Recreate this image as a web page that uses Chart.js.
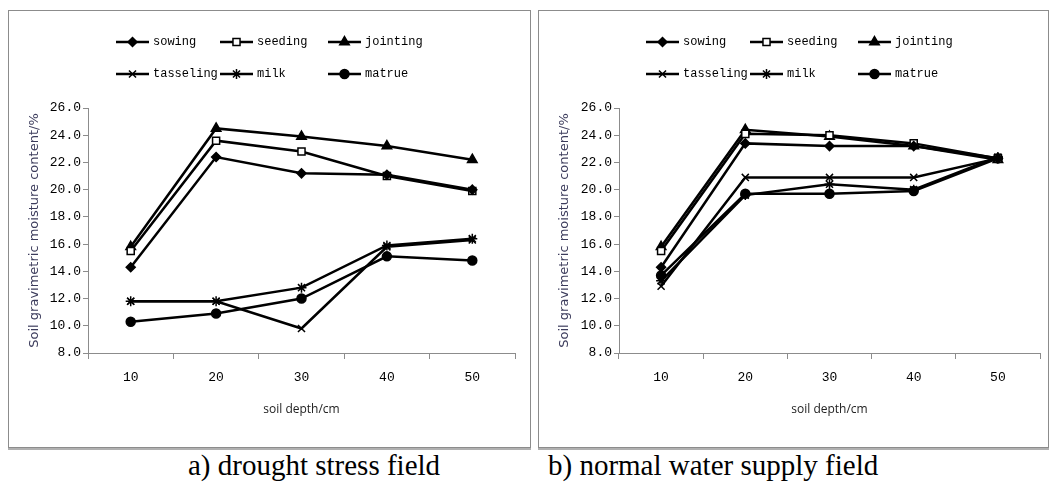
<!DOCTYPE html>
<html>
<head>
<meta charset="utf-8">
<script src="https://cdn.jsdelivr.net/npm/chart.js@4.4.1/dist/chart.umd.min.js"></script>
<style>
body { margin: 0; background: #fff; width: 1051px; height: 484px; position: relative; overflow: hidden; }
.box { position: absolute; top: 10px; height: 436px; border: 1px solid #8c8c8c; box-shadow: 0 2px 0 #b0b0b0; background: #fff; }
#boxA { left: 8px; width: 521px; }
#boxB { left: 538px; width: 509px; }
.cap { position: absolute; top: 449px; font-family: "Liberation Serif", serif; font-size: 29px; color: #000; white-space: nowrap; }
</style>
</head>
<body>
<div class="box" id="boxA"><canvas id="chartA" width="521" height="436"></canvas></div>
<div class="box" id="boxB"><canvas id="chartB" width="509" height="436"></canvas></div>
<div class="cap" style="left:188px">a) drought stress field</div>
<div class="cap" style="left:548px">b) normal water supply field</div>

<script>
// Categories and series names
const depths = ['10', '20', '30', '40', '50'];
const stages = ['sowing', 'seeding', 'jointing', 'tasseling', 'milk', 'matrue'];
const yTicks = [8, 10, 12, 14, 16, 18, 20, 22, 24, 26];

// a) drought stress field
const droughtSowing = [14.3, 22.4, 21.2, 21.1, 20.0];
const droughtSeeding = [15.5, 23.6, 22.8, 21.0, 19.9];
const droughtJointing = [15.8, 24.5, 23.9, 23.2, 22.2];
const droughtTasseling = [11.8, 11.8, 9.8, 15.8, 16.3];
const droughtMilk = [11.8, 11.8, 12.8, 15.9, 16.4];
const droughtMatrue = [10.3, 10.9, 12.0, 15.1, 14.8];

// b) normal water supply field
const normalSowing = [14.3, 23.4, 23.2, 23.2, 22.3];
const normalSeeding = [15.5, 24.1, 24.0, 23.4, 22.3];
const normalJointing = [15.8, 24.4, 23.9, 23.2, 22.2];
const normalTasseling = [12.9, 20.9, 20.9, 20.9, 22.3];
const normalMilk = [13.3, 19.6, 20.4, 20.0, 22.4];
const normalMatrue = [13.7, 19.7, 19.7, 19.9, 22.3];

// marker look per stage
const markers = [
    { style: 'rectRot', radius: 4.5, fill: '#000' },
    { style: 'rect', radius: 5, fill: '#fff' },
    { style: 'triangle', radius: 5.5, fill: '#000' },
    { style: 'crossRot', radius: 5, fill: '#000' },
    { style: 'star', radius: 5, fill: '#000' },
    { style: 'circle', radius: 4.5, fill: '#000' }
];

// Legend drawn as line + marker + name, two rows of three
const lineLegend = {
    id: 'lineLegend',
    afterDraw(chart, args, opts) {
        const ctx = chart.ctx;
        ctx.save();
        chart.data.datasets.forEach((ds, i) => {
            const x = opts.cols[i % 3];
            const y = opts.rows[Math.floor(i / 3)];
            ctx.strokeStyle = '#000';
            ctx.lineWidth = 2.5;
            ctx.beginPath();
            ctx.moveTo(x, y);
            ctx.lineTo(x + opts.lineLen, y);
            ctx.stroke();
            ctx.fillStyle = ds.pointBackgroundColor;
            ctx.strokeStyle = '#000';
            ctx.lineWidth = ds.pointBorderWidth;
            Chart.helpers.drawPoint(ctx, {
                pointStyle: ds.pointStyle, radius: ds.pointRadius, rotation: 0, borderWidth: ds.pointBorderWidth
            }, x + opts.lineLen / 2, y);
            ctx.fillStyle = '#000';
            ctx.font = '12px "Liberation Mono"';
            ctx.textBaseline = 'middle';
            ctx.fillText(ds.label, x + opts.lineLen + 4, y);
        });
        ctx.restore();
    }
};

function makeChart(canvasId, series, yWidth, padRight) {
    const datasets = series.map((values, i) => ({
        label: stages[i],
        data: values,
        borderColor: '#000',
        borderWidth: 2.5,
        tension: 0,
        pointStyle: markers[i].style,
        pointRadius: markers[i].radius,
        pointHoverRadius: markers[i].radius,
        pointBackgroundColor: markers[i].fill,
        pointBorderColor: '#000',
        pointBorderWidth: 1.5
    }));

    return new Chart(document.getElementById(canvasId), {
        type: 'line',
        data: { labels: depths, datasets: datasets },
        options: {
            responsive: false,
            animation: false,
            layout: { padding: { top: 97, right: padRight, bottom: 0, left: 0 } },
            plugins: {
                legend: { display: false },
                tooltip: { enabled: false },
                lineLegend: { cols: [107, 211, 319], rows: [31, 63], lineLen: 33 }
            },
            scales: {
                x: {
                    offset: true,
                    grid: { offset: true, drawOnChartArea: false, tickLength: 6, color: '#8c8c8c' },
                    border: { color: '#8c8c8c' },
                    ticks: { color: '#000', font: { family: 'Liberation Mono', size: 13 }, padding: 11 },
                    title: {
                        display: true, text: 'soil depth/cm', color: '#222',
                        font: { family: 'Open Sans', size: 12 }, padding: { top: 0, bottom: 30 }
                    },
                    afterFit(s) { s.height = 94; }
                },
                y: {
                    min: yTicks[0],
                    max: yTicks[yTicks.length - 1],
                    afterBuildTicks(s) { s.ticks = yTicks.map(v => ({ value: v })); },
                    grid: { drawOnChartArea: false, tickLength: 5, color: '#8c8c8c' },
                    border: { color: '#8c8c8c' },
                    ticks: {
                        color: '#000', font: { family: 'Liberation Mono', size: 13 }, padding: 2,
                        callback: v => v.toFixed(1)
                    },
                    title: {
                        display: true, text: 'Soil gravimetric moisture content/%', color: '#3c3c5c',
                        font: { family: 'DejaVu Sans', size: 13 }, padding: { top: 18, bottom: 0 }
                    },
                    afterFit(s) { s.width = yWidth; }
                }
            }
        },
        plugins: [lineLegend]
    });
}

makeChart('chartA',
    [droughtSowing, droughtSeeding, droughtJointing, droughtTasseling, droughtMilk, droughtMatrue],
    79, 15);
makeChart('chartB',
    [normalSowing, normalSeeding, normalJointing, normalTasseling, normalMilk, normalMatrue],
    80, 8);
</script>
</body>
</html>
